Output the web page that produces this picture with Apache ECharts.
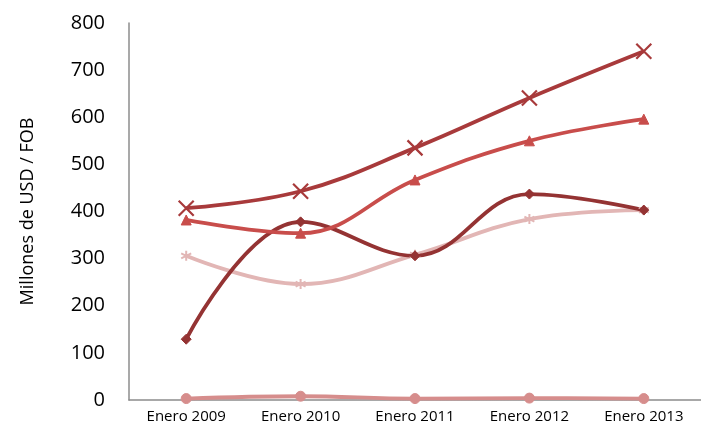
<!DOCTYPE html>
<html><head><meta charset="utf-8">
<script src="https://cdn.jsdelivr.net/npm/echarts@6/dist/echarts.min.js"></script>
<style>html,body{margin:0;padding:0;background:#fff}#c{width:701px;height:428px}</style>
</head><body><div id="c"></div>
<script>
const categories = ['Enero 2009','Enero 2010','Enero 2011','Enero 2012','Enero 2013'];
const serieX = [407, 443, 535, 641, 740];
const serieTriangle = [382, 354, 467, 550, 596];
const serieDiamond = [129, 378, 306, 437, 403];
const serieStar = [306, 246, 308, 384, 403];
const serieCircle = [3, 8, 3, 4, 3];
const yTicks = [0, 100, 200, 300, 400, 500, 600, 700, 800];

const xPath = 'path://M0,0L10,10M10,0L0,10';
const starPath = 'path://M5,0L5,10M0,2.5L10,7.5M0,7.5L10,2.5';
function mk(name, data, color, symbol, size, extra) {
  return Object.assign({
    name, type: 'line', data, smooth: 0.4,
    symbol, symbolSize: size,
    lineStyle: {color, width: 3.8},
    itemStyle: {color, borderColor: color},
    emphasis: {disabled: true}
  }, extra || {});
}
const chart = echarts.init(document.getElementById('c'));
chart.setOption({
  animation: false,
  textStyle: {fontFamily: '"Open Sans", Lato, sans-serif'},
  grid: {left: 129, top: 23, width: 582, height: 377, containLabel: false},
  xAxis: {
    type: 'category', data: categories, boundaryGap: true,
    axisLine: {lineStyle: {color: '#8c8c8c', width: 1.5}},
    axisTick: {show: false},
    axisLabel: {color: '#000', fontSize: 15, margin: 9, interval: 0}
  },
  yAxis: {
    type: 'value', min: 0, max: 800, interval: 100,
    name: 'Millones de USD / FOB', nameLocation: 'middle', nameGap: 92,
    nameTextStyle: {color: '#000', fontSize: 18},
    axisLine: {show: true, lineStyle: {color: '#8c8c8c', width: 1.5}},
    axisTick: {show: false},
    splitLine: {show: false},
    axisLabel: {color: '#000', fontSize: 20, margin: 24,
      formatter: v => yTicks.includes(v) ? String(v) : ''}
  },
  series: [
    mk('Circle', serieCircle, '#D68D8C', 'circle', 10),
    mk('Star', serieStar, '#E2B6B5', starPath, 10, {itemStyle: {color: '#E2B6B5', borderColor: '#E2B6B5', borderWidth: 2}}),
    mk('Diamond', serieDiamond, '#943333', 'diamond', 10),
    mk('Triangle', serieTriangle, '#C84D4B', 'triangle', 10),
    mk('X', serieX, '#A83A3B', xPath, 15, {itemStyle: {color: 'none', borderColor: '#A83A3B', borderWidth: 2.2}})
  ]
});
</script></body></html>
